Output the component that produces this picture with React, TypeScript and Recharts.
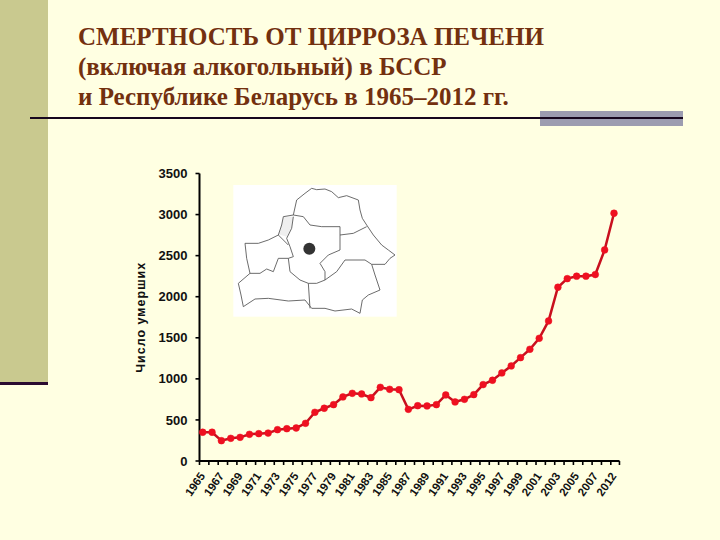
import React from "react";
import { LineChart, Line, XAxis, YAxis, Label } from "recharts";

const years: string[] = ["1965","1966","1967","1968","1969","1970","1971","1972","1973","1974","1975","1976","1977","1978","1979","1980","1981","1982","1983","1984","1985","1986","1987","1988","1989","1990","1991","1992","1993","1994","1995","1996","1997","1998","1999","2000","2001","2002","2003","2004","2005","2006","2007","2010","2012"];
const deaths: number[] = [350,350,247,276,288,325,333,340,381,393,402,459,593,642,686,780,824,816,771,897,873,868,629,673,670,686,804,719,751,808,930,983,1072,1157,1258,1360,1494,1705,2115,2220,2250,2250,2270,2570,3016];
const yTicks: number[] = [0,500,1000,1500,2000,2500,3000,3500];
const titleLines: string[] = ["СМЕРТНОСТЬ ОТ ЦИРРОЗА ПЕЧЕНИ","(включая алкогольный) в БССР","и Республике Беларусь в 1965–2012 гг."];
const yTitle = "Число умерших";
const data = years.map((year, i) => ({ year, deaths: deaths[i] }));

const mapOutline = "M260 40 L275 44 L300 42 L320 50 L340 68 L365 62 L400 75 L405 105 L412 130 L425 150 L445 180 L470 210 L490 225 L510 240 L495 250 L480 268 L440 268 L450 300 L465 345 L430 360 L412 375 L405 415 L380 402 L330 408 L300 400 L260 400 L240 375 L190 378 L130 370 L90 372 L55 395 L48 360 L40 325 L75 295 L65 250 L60 205 L100 205 L130 195 L160 180 L170 150 L175 125 L205 120 L215 75 L240 55 Z";
const mapInner = [
  "M205 120 L235 125 L255 150 L290 155 L345 155 L345 180 L385 175 L425 155",
  "M205 125 L200 160 L185 190 L195 215 L205 245 L190 250 L195 290 L225 315 L250 325 L275 325 L300 315 L300 290 L285 265 L310 240 L345 225 L345 180",
  "M160 180 L190 210",
  "M190 250 L160 250 L145 290 L125 282 L105 295 L75 295",
  "M250 325 L255 400",
  "M300 315 L335 290 L360 255 L420 255 L440 268",
];

function XTick(props: any) {
  const { x, y, index, payload } = props;
  const step = 9.33;
  const showLabel = index % 2 === 0;
  return (
    <g>
      <line x1={x - 3.2} x2={x - 3.2} y1={y - 8} y2={y - 4} stroke="#000" strokeWidth={1.6} />
      {index === years.length - 1 && (
        <line x1={x + step / 2 + 0.8} x2={x + step / 2 + 0.8} y1={y - 8} y2={y - 4} stroke="#000" strokeWidth={1.6} />
      )}
      {showLabel && (
        <text
          x={x + 3}
          y={476}
          textAnchor="end"
          transform={`rotate(-55 ${x + 3} 476)`}
          fontFamily="'Liberation Sans', Arial, sans-serif"
          fontWeight={700}
          fontSize={11.5}
          fill="#111"
        >
          {payload.value}
        </text>
      )}
    </g>
  );
}

export default function App() {
  return (
    <div style={{ position: "absolute", left: 0, top: 0, width: 720, height: 540, background: "#FFFFE2", overflow: "hidden" }}>
      <div style={{ position: "absolute", left: 0, top: 0, width: 48, height: 382, background: "#C9C98F" }} />
      <div style={{ position: "absolute", left: 0, top: 382, width: 48, height: 3, background: "#2A0A30" }} />
      <div style={{ position: "absolute", left: 540, top: 111, width: 143, height: 15, background: "#9C9CB0" }} />
      <div style={{ position: "absolute", left: 30, top: 117, width: 653, height: 2, background: "#16061E" }} />
      {titleLines.map((t, i) => (
        <div
          key={t}
          style={{
            position: "absolute",
            left: 78,
            top: 22 + i * 30,
            fontFamily: "'Liberation Serif', serif",
            fontWeight: 700,
            fontSize: 25,
            lineHeight: "30px",
            color: "#73300F",
            whiteSpace: "nowrap",
          }}
        >
          {t}
        </div>
      ))}
      <svg style={{ position: "absolute", left: 225, top: 175 }} width={180} height={150} viewBox="0 0 540 450">
        <rect x={25} y={30} width={490} height={395} fill="#FFFFFF" />
        <path d="M175 125 L205 125 L200 160 L185 185 L160 178 L170 150 Z" fill="#EFEFEF" />
        <path d={mapOutline} fill="none" stroke="#555" strokeWidth={2.6} />
        {mapInner.map((d) => (
          <path key={d} d={d} fill="none" stroke="#555" strokeWidth={2.6} />
        ))}
        <circle cx={253} cy={221} r={18} fill="#333" />
      </svg>
      <div style={{ position: "absolute", left: 0, top: 0 }}>
        <LineChart
          width={720}
          height={540}
          data={data}
          margin={{ left: 139.5, right: 100.5, top: 173.5, bottom: 19 }}
        >
          <XAxis
            dataKey="year"
            interval={0}
            height={60}
            padding={{ left: 3.2, right: 5.5 }}
            tickLine={false}
            axisLine={{ stroke: "#000", strokeWidth: 2 }}
            tick={<XTick />}
          />
          <YAxis
            width={60}
            domain={[0, 3500]}
            ticks={yTicks}
            interval={0}
            tickSize={4}
            tickMargin={8}
            tickLine={{ stroke: "#000", strokeWidth: 1.6 }}
            axisLine={{ stroke: "#000", strokeWidth: 2 }}
            tick={{ fill: "#111", fontSize: 13, fontWeight: 700, fontFamily: "'Liberation Sans', Arial, sans-serif" }}
          >
            <Label
              value={yTitle}
              angle={-90}
              position="insideLeft"
              offset={1}
              style={{ textAnchor: "middle", fontSize: 12.5, fontWeight: 700, letterSpacing: 1, fill: "#111", fontFamily: "'Liberation Sans', Arial, sans-serif" }}
            />
          </YAxis>
          <Line
            dataKey="deaths"
            type="linear"
            stroke="#C8101E"
            strokeWidth={2.5}
            isAnimationActive={false}
            dot={{ r: 3.4, fill: "#EE1020", stroke: "#EE1020", strokeWidth: 0.5 }}
          />
        </LineChart>
      </div>
    </div>
  );
}
